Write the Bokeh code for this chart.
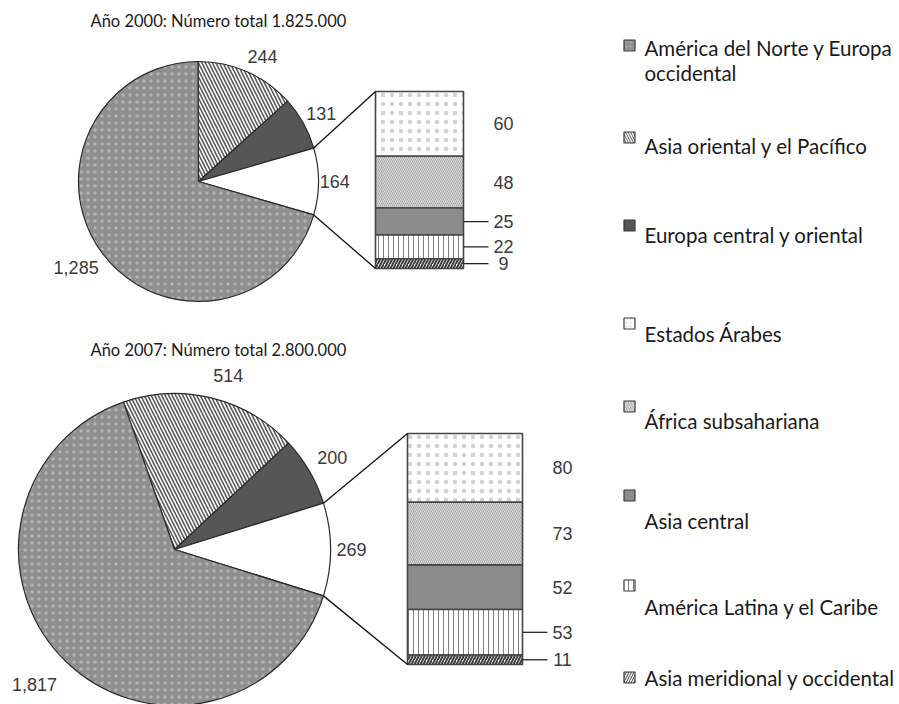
import math
from bokeh.plotting import figure
from bokeh.models import Range1d
from bokeh.core.properties import value
from bokeh.embed import file_html
from bokeh.resources import INLINE

# ---------------- data ----------------
titles = ["Año 2000: Número total 1.825.000", "Año 2007: Número total 2.800.000"]

# pie slices, clockwise from the first hatched slice
pie_keys = ["asia_oriental", "europa_central", "otros", "america_norte"]
pie_2000 = [244, 131, 164, 1285]
pie_2007 = [514, 200, 269, 1817]

# bar of "otros", from top to bottom
bar_keys = ["arabes", "africa", "asia_central", "america_latina", "asia_meridional"]
bar_2000 = [60, 48, 25, 22, 9]
bar_2007 = [80, 73, 52, 53, 11]

legend_keys = ["america_norte", "asia_oriental", "europa_central", "arabes",
               "africa", "asia_central", "america_latina", "asia_meridional"]
legend_labels = [
    ["América del Norte y Europa", "occidental"],
    ["Asia oriental y el Pacífico"],
    ["Europa central y oriental"],
    ["Estados Árabes"],
    ["África subsahariana"],
    ["Asia central"],
    ["América Latina y el Caribe"],
    ["Asia meridional y occidental"],
]

# ---------------- styles ----------------
styles = {
    "america_norte": dict(fill_color="#8f8f8f", hatch_pattern="dot", hatch_color="#c2c2c2",
                          hatch_scale=7, hatch_weight=1, hatch_alpha=0.7),
    "asia_oriental": dict(fill_color="white", hatch_pattern="left_diagonal_line",
                          hatch_color="#5a5a5a", hatch_scale=7, hatch_weight=1.6),
    "europa_central": dict(fill_color="#565656"),
    "otros": dict(fill_color="white"),
    "arabes": dict(fill_color="white", hatch_pattern="dot", hatch_color="#d2d2d2",
                   hatch_scale=9, hatch_weight=1),
    "africa": dict(fill_color="#dcdcdc", hatch_pattern="left_diagonal_line",
                   hatch_color="#a6a6a6", hatch_scale=4, hatch_weight=1),
    "asia_central": dict(fill_color="#8c8c8c"),
    "america_latina": dict(fill_color="white", hatch_pattern="vertical_line",
                           hatch_color="#808080", hatch_scale=5, hatch_weight=1),
    "asia_meridional": dict(fill_color="white", hatch_pattern="right_diagonal_line",
                            hatch_color="#3c3c3c", hatch_scale=6, hatch_weight=2),
}

TITLE_FONT = value("Lato")
NUM_FONT = value("Liberation Sans")

W, H = 899, 704
p = figure(width=W, height=H, output_backend="svg", toolbar_location=None,
           x_range=Range1d(0, W), y_range=Range1d(0, H),
           x_axis_type=None, y_axis_type=None)
p.min_border = 0
p.grid.visible = False
p.outline_line_color = None
p.background_fill_color = "white"
p.border_fill_color = "white"


def Y(sy):
    return H - sy


# label placement (layout): radius factor and angle shift per slice
lab_k = {"asia_oriental": 1.17, "europa_central": 1.17, "otros": 1.135, "america_norte": 1.245}
lab_d = {"asia_oriental": 3.2, "europa_central": 0.0, "otros": 0.0, "america_norte": 2.0}


def panel(title, ty, vals, bvals, cx, cy, r, bx, bw, btop, bh, leaders):
    p.text(x=[90], y=[Y(ty)], text=[title], text_font=TITLE_FONT, text_font_size="16.5px",
           text_color="#1a1a1a", text_align="left", text_baseline="middle")
    total = sum(vals)
    deg = [v / total * 360 for v in vals]
    # rotate so that the "otros" slice is centred on 3 o'clock
    start = 90 - deg[2] / 2 - deg[1] - deg[0]
    t = start
    bounds = []
    for key, v, d in zip(pie_keys, vals, deg):
        t1, t2 = t, t + d
        bounds.append((t1, t2))
        p.wedge(x=cx, y=Y(cy), radius=r, start_angle=math.radians(90 - t2),
                end_angle=math.radians(90 - t1), line_color="#2a2a2a", line_width=1.2,
                **styles[key])
        mid = math.radians((t1 + t2) / 2 + lab_d[key])
        lx = cx + lab_k[key] * r * math.sin(mid)
        ly = cy - lab_k[key] * r * math.cos(mid)
        p.text(x=[lx], y=[Y(ly)], text=[f"{v:,}"], text_font=NUM_FONT, text_font_size="18px",
               text_color="#3a3a3a", text_align="center", text_baseline="middle")
        t = t2
    # bar of otros
    scale = bh / sum(bvals)
    top = btop
    for key, v, lead in zip(bar_keys, bvals, leaders):
        bot = top + v * scale
        p.quad(left=bx, right=bx + bw, top=Y(top), bottom=Y(bot), line_color="#444444",
               line_width=1.6, **styles[key])
        ymid = (top + bot) / 2
        p.text(x=[bx + bw + 40], y=[Y(ymid)], text=[f"{v:,}"], text_font=NUM_FONT,
               text_font_size="18px", text_color="#3a3a3a", text_align="center",
               text_baseline="middle")
        if lead:
            p.segment(x0=bx + bw, y0=Y(ymid), x1=bx + bw + 25, y1=Y(ymid),
                      line_color="#222222", line_width=1.3)
        top = bot
    # connector lines
    o1, o2 = bounds[2]
    for ang, by in ((o1, btop), (o2, btop + bh)):
        a = math.radians(ang)
        px = cx + r * math.sin(a)
        py = cy - r * math.cos(a)
        p.segment(x0=px, y0=Y(py), x1=bx, y1=Y(by), line_color="#111111", line_width=1.3)


panel(titles[0], 20, pie_2000, bar_2000, 198, 181, 120, 375, 88, 91, 177,
      [False, False, True, True, True])
panel(titles[1], 349, pie_2007, bar_2007, 174, 549, 156, 407, 115, 433, 231,
      [False, False, False, True, True])

# legend (layout)
sq_y = [45, 137, 225, 323, 406, 495, 585, 677]
tx_y = [47, 145, 234, 333, 420, 520, 606, 677]
for key, lines, sy, ty in zip(legend_keys, legend_labels, sq_y, tx_y):
    st = dict(styles[key])
    if "hatch_pattern" in st:
        st["hatch_scale"] = 5 if st["hatch_pattern"] != "dot" else 4
        st["hatch_weight"] = 1
    p.rect(x=629, y=Y(sy), width=11, height=11, line_color="#3a3a3a", line_width=1.2, **st)
    for i, line in enumerate(lines):
        p.text(x=[644], y=[Y(ty + 25 * i)], text=[line], text_font=TITLE_FONT,
               text_font_size="20.5px", text_color="#1a1a1a", text_align="left",
               text_baseline="middle")

open("out.html", "w").write(file_html(p, INLINE))
